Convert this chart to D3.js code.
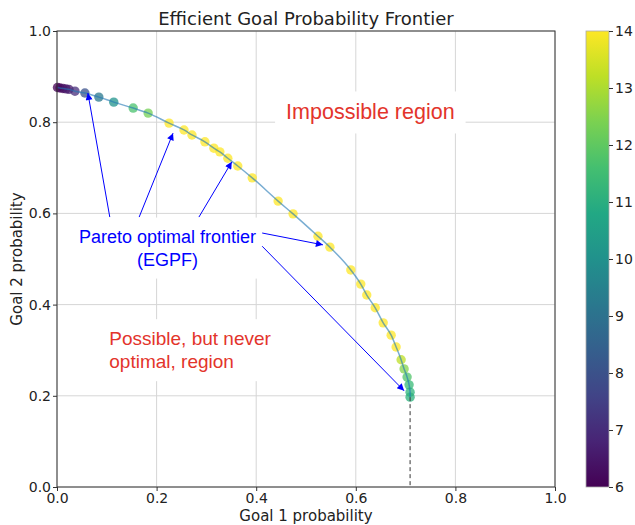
<!DOCTYPE html>
<html>
<head>
<meta charset="utf-8">
<script src="https://cdn.jsdelivr.net/npm/d3@7"></script>
<style>
  body { margin: 0; background: #fff; }
  svg { font-family: "DejaVu Sans", sans-serif; }
</style>
</head>
<body>
<svg id="chart" width="635" height="525"></svg>
<script>
// frontier points: goal 1 prob, goal 2 prob, colour value
var goal1 = [0.001, 0.006, 0.012, 0.018, 0.024, 0.036, 0.056, 0.084, 0.114, 0.153, 0.183,
             0.225, 0.255, 0.271, 0.297, 0.315, 0.327, 0.343, 0.363, 0.392, 0.444, 0.474,
             0.524, 0.548, 0.590, 0.610, 0.622, 0.639, 0.655, 0.671, 0.681, 0.691, 0.697,
             0.703, 0.707, 0.709, 0.709];
var goal2 = [0.876, 0.875, 0.874, 0.873, 0.872, 0.868, 0.864, 0.855, 0.844, 0.831, 0.820,
             0.798, 0.783, 0.772, 0.757, 0.743, 0.735, 0.721, 0.704, 0.678, 0.627, 0.599,
             0.550, 0.526, 0.476, 0.445, 0.421, 0.393, 0.360, 0.333, 0.307, 0.279, 0.259,
             0.241, 0.224, 0.208, 0.197];
var colourVal = [6.0, 6.1, 6.2, 6.4, 6.6, 7.0, 8.0, 9.2, 10.1, 11.7, 12.3,
                 14, 14, 14, 14, 14, 14, 14, 14, 14, 14, 14,
                 14, 14, 14, 14, 14, 14, 14, 14, 14, 13.2, 12.5,
                 11.8, 11.4, 11.2, 11.1];

var ticks = [0.0, 0.2, 0.4, 0.6, 0.8, 1.0];
var cbTicks = [6, 7, 8, 9, 10, 11, 12, 13, 14];

// annotation arrows (data coords): start and tip
var arrowFrom = [[0.106, 0.592], [0.165, 0.592], [0.285, 0.592], [0.412, 0.557], [0.412, 0.528]];
var arrowTo = [[0.062, 0.864], [0.233, 0.776], [0.351, 0.713], [0.534, 0.531], [0.697, 0.211]];

var width = 635, height = 525;
var left = 57, mTop = 31, pw = 498, ph = 456;

var svg = d3.select("#chart");

var x = d3.scaleLinear().domain([0, 1]).range([left, left + pw]);
var y = d3.scaleLinear().domain([0, 1]).range([mTop + ph, mTop]);
var colour = d3.scaleSequential(d3.interpolateViridis).domain([6, 14]);

var defs = svg.append("defs");
defs.append("marker")
    .attr("id", "head")
    .attr("viewBox", "0 0 10 10")
    .attr("refX", 10).attr("refY", 5)
    .attr("markerWidth", 11).attr("markerHeight", 7)
    .attr("markerUnits", "userSpaceOnUse")
    .attr("orient", "auto")
    .append("path").attr("d", "M0,0 L10,5 L0,10 z").attr("fill", "blue");

var grad = defs.append("linearGradient")
    .attr("id", "cbgrad").attr("x1", 0).attr("y1", 1).attr("x2", 0).attr("y2", 0);
d3.range(0, 1.01, 0.1).forEach(function(t) {
    grad.append("stop").attr("offset", t).attr("stop-color", d3.interpolateViridis(t));
});

// grid
var grid = svg.append("g");
ticks.forEach(function(t) {
    grid.append("line").attr("x1", x(t)).attr("x2", x(t)).attr("y1", mTop).attr("y2", mTop + ph)
        .attr("stroke", "#d6d6d6").attr("stroke-width", 1);
    grid.append("line").attr("x1", left).attr("x2", left + pw).attr("y1", y(t)).attr("y2", y(t))
        .attr("stroke", "#d6d6d6").attr("stroke-width", 1);
});

// points
var pts = d3.range(goal1.length).map(function(i) {
    return {x: goal1[i], y: goal2[i], c: colourVal[i]};
});

svg.append("g").selectAll("circle")
    .data(pts)
    .enter()
    .append("circle")
    .attr("cx", function(d) { return x(d.x); })
    .attr("cy", function(d) { return y(d.y); })
    .attr("r", 4.7)
    .attr("fill", function(d) { return colour(d.c); })
    .attr("fill-opacity", 0.75);

var line = d3.line()
    .x(function(d) { return x(d.x); })
    .y(function(d) { return y(d.y); })
    .curve(d3.curveMonotoneX);

svg.append("path")
    .datum(pts)
    .attr("d", line)
    .attr("fill", "none")
    .attr("stroke", "#1f77b4")
    .attr("stroke-opacity", 0.6)
    .attr("stroke-width", 1.5);

// dashed drop line
var last = pts[pts.length - 1];
svg.append("line")
    .attr("x1", x(last.x)).attr("x2", x(last.x))
    .attr("y1", y(last.y)).attr("y2", y(0))
    .attr("stroke", "#333").attr("stroke-width", 1)
    .attr("stroke-dasharray", "4,3");

// text boxes
function label(lines, xv, yv, colr, anchor, size) {
    var g = svg.append("g");
    var t = g.append("text")
        .attr("x", x(xv)).attr("y", y(yv))
        .attr("fill", colr)
        .attr("font-family", "'Liberation Sans', Arial, sans-serif")
        .attr("font-size", size)
        .attr("text-anchor", anchor);
    lines.forEach(function(s, i) {
        t.append("tspan").attr("x", x(xv)).attr("dy", i === 0 ? 0 : 23).text(s);
    });
    var bb = t.node().getBBox();
    g.insert("rect", "text")
        .attr("x", bb.x - 11).attr("y", bb.y - 9)
        .attr("width", bb.width + 22).attr("height", bb.height + 18)
        .attr("fill", "#fff");
}

label(["Impossible region"], 0.46, 0.806, "#e3342b", "start", 21.5);
label(["Possible, but never", "optimal, region"], 0.105, 0.311, "#e3342b", "start", 19);
label(["Pareto optimal frontier", "(EGPF)"], 0.222, 0.536, "blue", "middle", 18);

// arrows
svg.append("g").selectAll("line")
    .data(arrowFrom)
    .enter()
    .append("line")
    .attr("x1", function(d) { return x(d[0]); })
    .attr("y1", function(d) { return y(d[1]); })
    .attr("x2", function(d, i) { return x(arrowTo[i][0]); })
    .attr("y2", function(d, i) { return y(arrowTo[i][1]); })
    .attr("stroke", "blue")
    .attr("stroke-width", 1)
    .attr("marker-end", "url(#head)");

// frame
svg.append("rect")
    .attr("x", left).attr("y", mTop).attr("width", pw).attr("height", ph)
    .attr("fill", "none").attr("stroke", "#333").attr("stroke-width", 1);

// axes
var xAxis = d3.axisBottom(x).tickValues(ticks).tickFormat(d3.format(".1f")).tickSize(4).tickPadding(2);
var yAxis = d3.axisLeft(y).tickValues(ticks).tickFormat(d3.format(".1f")).tickSize(4).tickPadding(2);

var gx = svg.append("g").attr("transform", "translate(0," + (mTop + ph) + ")").call(xAxis);
var gy = svg.append("g").attr("transform", "translate(" + left + ",0)").call(yAxis);
[gx, gy].forEach(function(g) {
    g.select(".domain").remove();
    g.selectAll("text").attr("font-size", 14).attr("font-family", "DejaVu Sans").attr("fill", "#222");
    g.selectAll("line").attr("stroke", "#333");
});

svg.append("text")
    .attr("x", left + pw / 2).attr("y", 521)
    .attr("text-anchor", "middle").attr("font-size", 15).attr("fill", "#222")
    .text("Goal 1 probability");

svg.append("text")
    .attr("transform", "translate(22," + (mTop + ph / 2) + ") rotate(-90)")
    .attr("text-anchor", "middle").attr("font-size", 15).attr("fill", "#222")
    .text("Goal 2 probability");

svg.append("text")
    .attr("x", left + pw / 2).attr("y", 25)
    .attr("text-anchor", "middle").attr("font-size", 18).attr("fill", "#222")
    .text("Efficient Goal Probability Frontier");

// colour bar
var cbx = 586, cbw = 23;
var cy = d3.scaleLinear().domain([6, 14]).range([mTop + ph, mTop]);
svg.append("rect")
    .attr("x", cbx).attr("y", mTop).attr("width", cbw).attr("height", ph)
    .attr("fill", "url(#cbgrad)").attr("stroke", "#aaa").attr("stroke-width", 0.8);

var cAxis = d3.axisRight(cy).tickValues(cbTicks).tickSize(4).tickPadding(2);
var gc = svg.append("g").attr("transform", "translate(" + (cbx + cbw) + ",0)").call(cAxis);
gc.select(".domain").remove();
gc.selectAll("text").attr("font-size", 14).attr("font-family", "DejaVu Sans").attr("fill", "#222");
gc.selectAll("line").attr("stroke", "#333");
</script>
</body>
</html>
